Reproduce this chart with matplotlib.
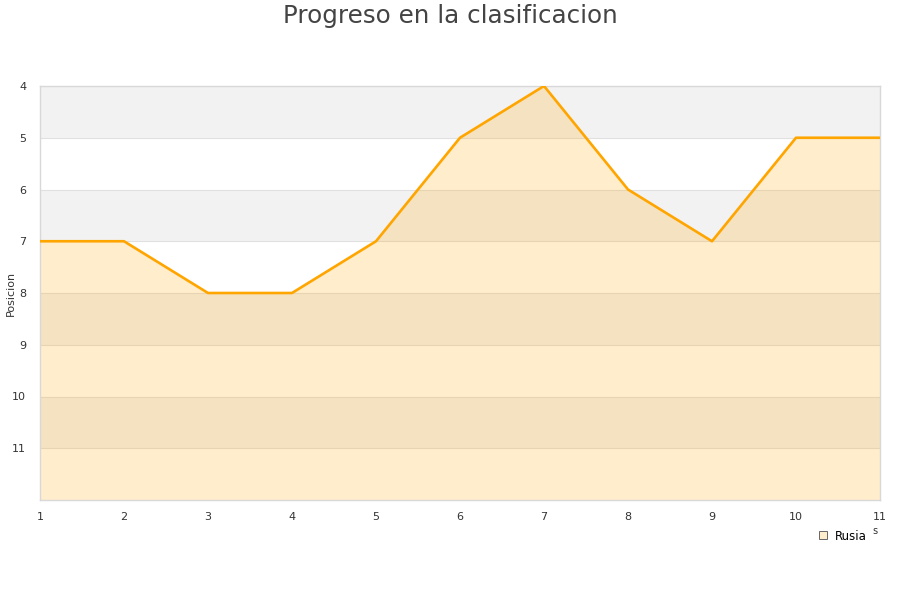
import matplotlib
matplotlib.use('Agg')
import matplotlib.pyplot as plt
from matplotlib.lines import Line2D

# data
jornadas = [1, 2, 3, 4, 5, 6, 7, 8, 9, 10, 11]
posicion = [7, 7, 8, 8, 7, 5, 4, 6, 7, 5, 5]
y_ticks = [4, 5, 6, 7, 8, 9, 10, 11]
equipo = "Rusia"

fig = plt.figure(figsize=(9, 6), dpi=100)
ax = fig.add_axes([40 / 900, 1 - 500 / 600, 840 / 900, 414 / 600])

# alternating bands
for lo in range(4, 12):
    if (lo - 4) % 2 == 0:
        ax.axhspan(lo, lo + 1, color='#f2f2f2', zorder=0, lw=0)
for yv in range(5, 12):
    ax.axhline(yv, color='#e0e0e0', lw=0.8, zorder=1)

ax.fill_between(jornadas, posicion, 12, color='#ffa500', alpha=0.2, lw=0, zorder=2)
ax.plot(jornadas, posicion, color='#ffa500', lw=1.9, zorder=3)

ax.set_xlim(1, 11)
ax.set_ylim(12, 4)
ax.set_xticks(jornadas)
ax.set_yticks(y_ticks)
ax.tick_params(length=0, labelsize=8, colors='#333333', pad=9)
ax.tick_params(axis='y', pad=10)
for s in ax.spines.values():
    s.set_color('#d8d8d8')
    s.set_linewidth(1)

ax.set_ylabel('Posicion', fontsize=8, color='#333333')
ax.yaxis.set_label_coords(-24 / 840, 0.5)
fig.suptitle('Progreso en la clasificacion', fontsize=17.7, color='#444444', y=0.993)

handle = Line2D([], [], marker='s', ls='none', markersize=6,
                markerfacecolor='#ffedcc', markeredgecolor='#666666', markeredgewidth=0.7)
fig.legend([handle], [equipo], loc='center', bbox_to_anchor=(842 / 900, 1 - 536 / 600),
           frameon=False, fontsize=8.5, handletextpad=0.5, handlelength=1)
fig.text(875 / 900, 1 - 531 / 600, 's', fontsize=7, color='#333333', ha='center', va='center')

fig.savefig('out.png', dpi=100, facecolor='white')
